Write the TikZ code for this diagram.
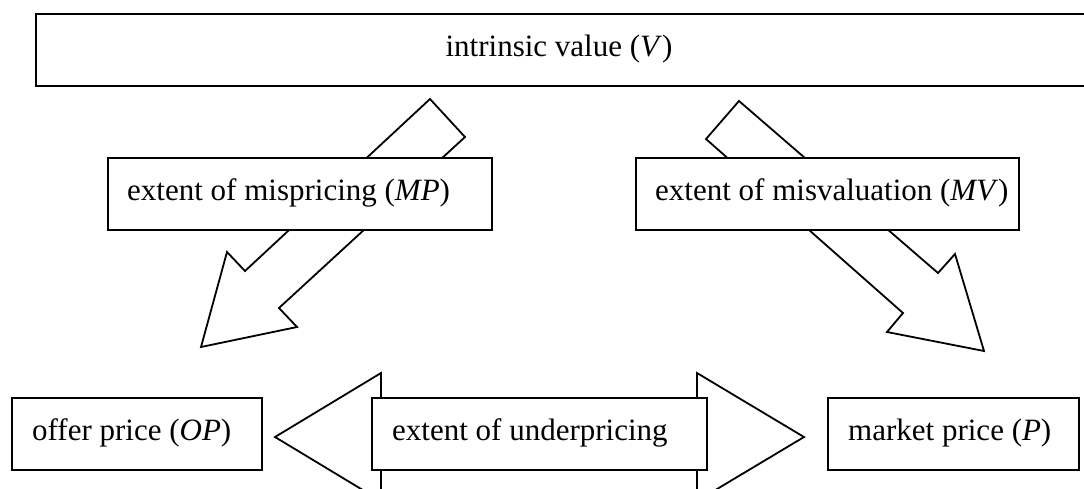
\documentclass[tikz,border=0pt]{standalone}
\usepackage{fontspec}
\setmainfont{Liberation Serif}
\begin{document}
\begin{tikzpicture}[x=1pt,y=-1pt,
  box/.style={draw=black,fill=white,line width=1.8pt,anchor=north west,inner sep=0pt},
  topbox/.style={box,line width=2.4pt},
  label/.style={inner sep=0pt,font=\fontsize{31}{37}\selectfont},
  bigarrow/.style={draw=black,fill=white,line width=1.8pt,line join=miter}]
\useasboundingbox (0,0) rectangle (1084,488);
% top box
\node[topbox,minimum width=1080pt,minimum height=72pt] (V) at (35,13) {};
\node[label] (Vt) at (559,49) {intrinsic value (\textit{V})};
% arrow to offer price
\coordinate (a1) at (430,99);
\coordinate (a2) at (465,137);
\coordinate (a3) at (279,308);
\coordinate (a4) at (297,327);
\coordinate (a5) at (201,347);
\coordinate (a6) at (227,252);
\coordinate (a7) at (245,271);
\draw[bigarrow] (a1) -- (a2) -- (a3) -- (a4) -- (a5) -- (a6) -- (a7) -- cycle;
% arrow to market price
\coordinate (b1) at (739,101);
\coordinate (b2) at (706,139);
\coordinate (b3) at (903,313);
\coordinate (b4) at (887,332);
\coordinate (b5) at (984,351);
\coordinate (b6) at (955,254);
\coordinate (b7) at (938,273);
\draw[bigarrow] (b1) -- (b2) -- (b3) -- (b4) -- (b5) -- (b6) -- (b7) -- cycle;
% double arrow
\coordinate (c1) at (275,437);
\coordinate (c2) at (381,373);
\coordinate (c3) at (381,410);
\coordinate (c4) at (697,410);
\coordinate (c5) at (697,373);
\coordinate (c6) at (804,437);
\coordinate (c7) at (697,501);
\coordinate (c8) at (697,464);
\coordinate (c9) at (381,464);
\coordinate (c10) at (381,501);
\draw[bigarrow] (c1) -- (c2) -- (c3) -- (c4) -- (c5) -- (c6) -- (c7) -- (c8) -- (c9) -- (c10) -- cycle;
% middle boxes
\node[box,minimum width=384pt,minimum height=72pt] (MP) at (107,157) {};
\node[label,anchor=west] (MPt) at (127,193) {extent of mispricing (\textit{MP})};
\node[box,minimum width=383pt,minimum height=72pt] (MV) at (635,157) {};
\node[label,anchor=west] (MVt) at (655,193) {extent of misvaluation (\textit{MV})};
% bottom boxes
\node[box,minimum width=250pt,minimum height=72pt] (OP) at (11,397) {};
\node[label,anchor=west] (OPt) at (32,433) {offer price (\textit{OP})};
\node[box,minimum width=335pt,minimum height=72pt] (U) at (371,397) {};
\node[label,anchor=west] (Ut) at (392,433) {extent of underpricing};
\node[box,minimum width=251pt,minimum height=72pt] (P) at (827,397) {};
\node[label,anchor=west] (Pt) at (848,433) {market price (\textit{P})};
\end{tikzpicture}
\end{document}
